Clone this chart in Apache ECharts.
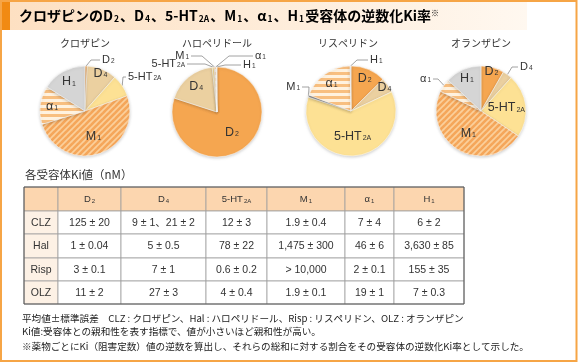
<!DOCTYPE html>
<html><head><meta charset="utf-8">
<script src="https://cdn.jsdelivr.net/npm/echarts@6/dist/echarts.min.js"></script>
<style>html,body{margin:0;padding:0;background:#fff}#c{width:580px;height:363px}</style>
</head><body><div id="c"></div>
<script>
// ---------- data ----------
const receptors = ['D2', 'D4', '5-HT2A', 'M1', 'α1', 'H1'];
const drugNames = ['クロザピン', 'ハロペリドール', 'リスペリドン', 'オランザピン'];
// inverse-Ki share (%) per receptor
const clozapinePct   = [0.8, 10.7, 8.0, 50.7, 13.8, 16.0];
const haloperidolPct = [80.0, 18.3, 0.7, 0.3, 0.5, 0.2];
const risperidonePct = [12.6, 5.4, 62.0, 0.8, 18.9, 0.3];
const olanzapinePct  = [8.3, 3.4, 22.7, 47.8, 4.8, 13.0];
// table
const rowLabels = ['CLZ', 'Hal', 'Risp', 'OLZ'];
const clzKi  = ['125 ± 20', '9 ± 1、21 ± 2', '12 ± 3', '1.9 ± 0.4', '7 ± 4', '6 ± 2'];
const halKi  = ['1 ± 0.04', '5 ± 0.5', '78 ± 22', '1,475 ± 300', '46 ± 6', '3,630 ± 85'];
const rispKi = ['3 ± 0.1', '7 ± 1', '0.6 ± 0.2', '> 10,000', '2 ± 0.1', '155 ± 35'];
const olzKi  = ['11 ± 2', '27 ± 3', '4 ± 0.4', '1.9 ± 0.1', '19 ± 1', '7 ± 0.3'];
const tableCaption = '各受容体Ki値（nM）';
const titleHead = 'クロザピンの';
const titleTail = '受容体の逆数化Ki率';
const notes = [
  '平均値±標準誤差　CLZ : クロザピン、Hal : ハロペリドール、Risp : リスペリドン、OLZ : オランザピン',
  'Ki値:受容体との親和性を表す指標で、値が小さいほど親和性が高い。',
  '※薬物ごとにKi（阻害定数）値の逆数を算出し、それらの総和に対する割合をその受容体の逆数化Ki率として示した。'
];

// ---------- layout / style ----------
const FONT = '"Liberation Sans", "Noto Sans CJK JP", sans-serif';
const CJK = '"Noto Sans CJK JP", "Liberation Sans", sans-serif';
const centers = [[85, 111], [217, 112], [351, 111], [481, 111]];
const R = 45;

function patternDiag() {
  const s = 6, c = document.createElement('canvas');
  c.width = s; c.height = s;
  const g = c.getContext('2d');
  g.fillStyle = '#fbd09c'; g.fillRect(0, 0, s, s);
  g.strokeStyle = '#f5a65a'; g.lineWidth = 2.6;
  for (const k of [0, s, 2 * s]) { g.beginPath(); g.moveTo(-1, k + 1); g.lineTo(k + 1, -1); g.stroke(); }
  return c;
}
function patternHoriz() {
  const c = document.createElement('canvas');
  c.width = 4; c.height = 6;
  const g = c.getContext('2d');
  g.fillStyle = '#fff2df'; g.fillRect(0, 0, 4, 6);
  g.fillStyle = '#f8bf80'; g.fillRect(0, 0, 4, 3);
  return c;
}
const fills = ['#f5a650', '#ebd0a0', '#fde194',
  { image: patternDiag(), repeat: 'repeat' },
  { image: patternHoriz(), repeat: 'repeat' },
  '#d5d5d5'];

// outside labels: which ones, where the text goes, leader line elbow/end
const outsideSpec = {
  '0-0': { x: 102, y: 60, align: 'left', elbow: [91, 60], end: [100, 60] },
  '0-2': { x: 128, y: 77, align: 'left', elbow: [123, 77], end: [126, 77] },
  '1-2': { x: 185, y: 64, align: 'right', elbow: [205, 64], end: [187, 64] },
  '1-3': { x: 189, y: 56, align: 'right', elbow: [202, 56], end: [191, 56] },
  '1-4': { x: 255, y: 56, align: 'left', elbow: [229, 56], end: [253, 56] },
  '1-5': { x: 243, y: 65, align: 'left', elbow: [225, 65], end: [241, 65] },
  '2-3': { x: 300, y: 87, align: 'right', elbow: [309, 87], end: [302, 87] },
  '2-5': { x: 370, y: 60, align: 'left', elbow: [357, 60], end: [368, 60] },
  '3-1': { x: 520, y: 67, align: 'left', elbow: [512, 67], end: [518, 67] },
  '3-4': { x: 431, y: 79, align: 'right', elbow: [438, 79], end: [433, 79] }
};
// radial push factor for inside labels
const insideK = {
  '0-1': 1.6, '0-3': 1.05, '0-4': 1.3, '0-5': 1.3,
  '1-0': 1.0, '1-1': 1.3,
  '2-0': 1.4, '2-1': 1.6, '2-2': 1.0, '2-4': 1.33,
  '3-0': 1.6, '3-2': 1.0, '3-3': 1.0, '3-5': 1.38
};

function rt(name, m, s) {
  const mm = name.match(/^(.*?)(\d+A?)$/);
  return '{' + m + '|' + mm[1] + '}{' + s + '|' + mm[2] + '}';
}

const richIn = {
  m: { fontSize: 12.5, color: '#333', fontFamily: FONT },
  s: { fontSize: 7, color: '#333', fontFamily: FONT, verticalAlign: 'bottom', padding: [0, 0, 1, 1] }
};
const richOut = {
  m: { fontSize: 11, color: '#333', fontFamily: FONT },
  s: { fontSize: 6.5, color: '#333', fontFamily: FONT, verticalAlign: 'bottom', padding: [0, 0, 1, 1] }
};

function pieSeries(si, values) {
  return {
    type: 'pie', radius: R, center: centers[si], startAngle: 90, clockwise: true,
    avoidLabelOverlap: false, silent: true, animation: false,
    itemStyle: { borderColor: '#fff', borderWidth: 0.5, shadowBlur: 3, shadowOffsetY: 1, shadowColor: 'rgba(0,0,0,0.18)' },
    data: values.map((v, j) => {
      const key = si + '-' + j;
      const out = !!outsideSpec[key];
      let color = fills[j];
      if (si === 2 && j === 3) color = '#9c9c9c';
      return {
        value: v, name: receptors[j],
        itemStyle: { color },
        label: {
          show: true, position: out ? 'outside' : 'inside',
          formatter: rt(receptors[j], 'm', 's'),
          rich: out ? richOut : richIn
        },
        labelLine: { show: out, length: 6, length2: 6, lineStyle: { color: '#8a8a8a', width: 0.8 } }
      };
    }),
    labelLayout: function (p) {
      const key = p.seriesIndex + '-' + p.dataIndex;
      const o = outsideSpec[key];
      if (o) {
        const res = { x: o.x, y: o.y, align: o.align, verticalAlign: 'middle' };
        if (p.labelLinePoints && p.labelLinePoints[0]) {
          res.labelLinePoints = [p.labelLinePoints[0], o.elbow, o.end];
        }
        return res;
      }
      const c = centers[p.seriesIndex];
      const k = insideK[key] || 1.25;
      const lx = p.labelRect.x + p.labelRect.width / 2, ly = p.labelRect.y + p.labelRect.height / 2;
      return { x: c[0] + (lx - c[0]) * k, y: c[1] + (ly - c[1]) * k, align: 'center', verticalAlign: 'middle' };
    }
  };
}

// ---------- graphic (frame, title, table, notes) ----------
const g = [];
g.push({ type: 'rect', shape: { x: 10, y: 2, width: 517, height: 28 }, style: {
  fill: { type: 'linear', x: 0, y: 0, x2: 1, y2: 0, colorStops: [{ offset: 0, color: '#fde0c2' }, { offset: 1, color: '#fff8f0' }] } }, silent: true });
g.push({ type: 'rect', shape: { x: 2, y: 2, width: 8, height: 28 }, style: { fill: '#f18a12' }, silent: true });
g.push({ type: 'rect', shape: { x: 1, y: 1, width: 575.5, height: 360 }, style: { fill: null, stroke: '#f6a546', lineWidth: 2 }, z: 100, silent: true });

const titleText = '{t|' + titleHead + '}' + receptors.map(r => rt(r, 't', 'ts')).join('{t|、}') + '{t|' + titleTail + '}{sup|※}';
g.push({ type: 'text', x: 19, y: 16, silent: true, style: {
  text: titleText, align: 'left', textAlign: 'left', verticalAlign: 'middle', textVerticalAlign: 'middle',
  rich: {
    t: { fontSize: 14, fontWeight: 'bold', color: '#111', fontFamily: CJK },
    ts: { fontSize: 8.5, fontWeight: 'bold', color: '#111', fontFamily: CJK, verticalAlign: 'bottom', padding: [0, 1, 0, 1] },
    sup: { fontSize: 8, color: '#999', fontFamily: CJK, verticalAlign: 'top' }
  } } });

const titleX = [85, 217, 348, 481];
drugNames.forEach((n, i) => g.push({ type: 'text', x: titleX[i], y: 43, silent: true,
  style: { text: n, fill: '#333', font: '10px ' + CJK, align: 'center', textAlign: 'center', verticalAlign: 'middle', textVerticalAlign: 'middle' } }));

g.push({ type: 'text', x: 25, y: 175, silent: true,
  style: { text: tableCaption, fill: '#333', font: '11.5px ' + CJK, align: 'left', textAlign: 'left', verticalAlign: 'middle', textVerticalAlign: 'middle' } });

const colX = [24, 58, 121, 206, 267, 345, 394, 464];
const rowY = [187, 211, 234, 258, 281, 304];
const rowsKi = [clzKi, halKi, rispKi, olzKi];
const richCell = {
  m: { fontSize: 9.5, color: '#333', fontFamily: FONT },
  s: { fontSize: 6, color: '#333', fontFamily: FONT, verticalAlign: 'bottom', padding: [0, 0, 0, 1] }
};
for (let r = 0; r < 5; r++) {
  for (let c = 0; c < 7; c++) {
    const x = colX[c], y = rowY[r], w = colX[c + 1] - x, h = rowY[r + 1] - y;
    let fill = '#fff';
    if (r === 0) fill = '#fcd6af'; else if (c === 0) fill = '#fdf1e5';
    g.push({ type: 'rect', silent: true, shape: { x, y, width: w, height: h }, style: { fill, stroke: '#a0a0a0', lineWidth: 0.8 } });
    let text = '', rich;
    if (r === 0) { if (c > 0) { text = rt(receptors[c - 1], 'm', 's'); rich = richCell; } }
    else text = c === 0 ? rowLabels[r - 1] : rowsKi[r - 1][c - 1];
    if (text) g.push({ type: 'text', silent: true, x: x + w / 2, y: y + h / 2 + 0.5, z: 10,
      style: { text, rich, fill: '#333', font: '10.5px ' + FONT, align: 'center', textAlign: 'center', verticalAlign: 'middle', textVerticalAlign: 'middle' } });
  }
}
g.push({ type: 'rect', silent: true, z: 11, shape: { x: colX[0], y: rowY[0], width: colX[7] - colX[0], height: rowY[5] - rowY[0] }, style: { fill: null, stroke: '#555', lineWidth: 1 } });

const noteY = [318, 331, 346];
notes.forEach((t, i) => g.push({ type: 'text', x: 22, y: noteY[i], silent: true,
  style: { text: t, fill: '#222', font: '9.6px ' + CJK, align: 'left', textAlign: 'left', verticalAlign: 'middle', textVerticalAlign: 'middle' } }));

const chart = echarts.init(document.getElementById('c'), null, { renderer: 'canvas' });
chart.setOption({
  animation: false,
  backgroundColor: '#fff',
  textStyle: { fontFamily: FONT },
  series: [pieSeries(0, clozapinePct), pieSeries(1, haloperidolPct), pieSeries(2, risperidonePct), pieSeries(3, olanzapinePct)],
  graphic: { elements: g }
});
</script></body></html>
